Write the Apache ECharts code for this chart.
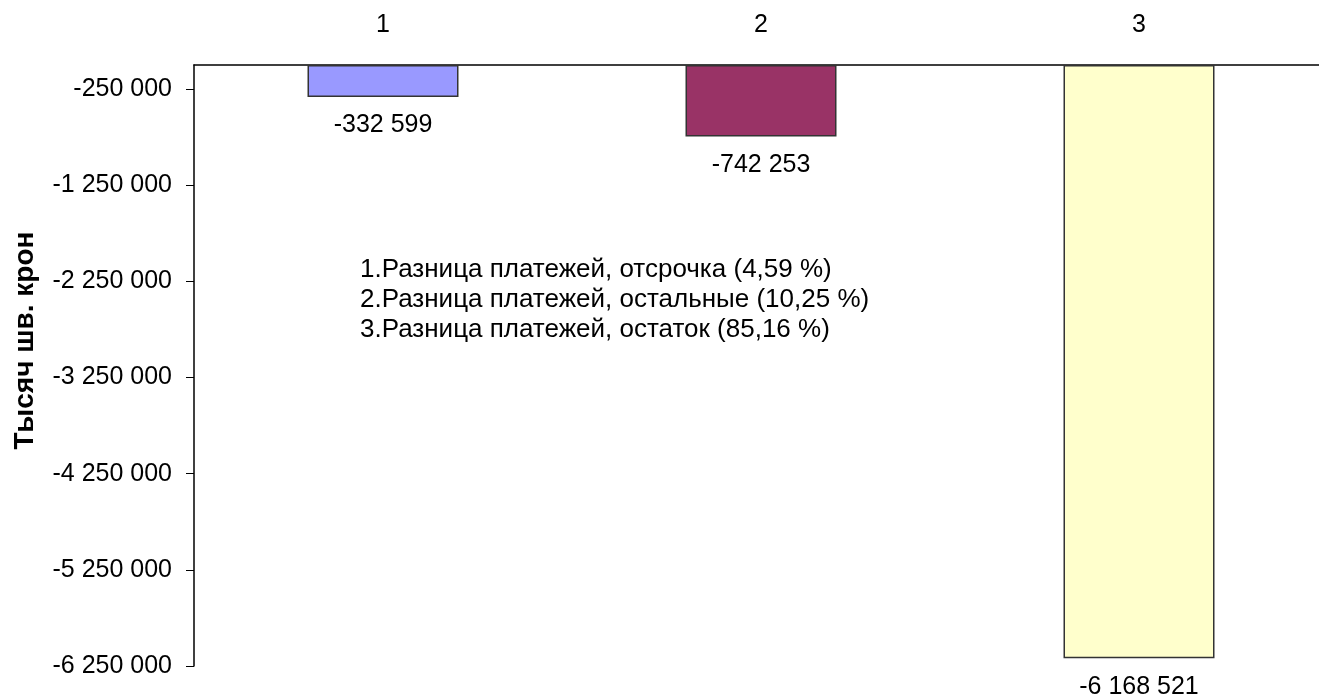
<!DOCTYPE html>
<html>
<head>
<meta charset="utf-8">
<script src="https://cdn.jsdelivr.net/npm/echarts@6/dist/echarts.min.js"></script>
<style>
  html, body { margin: 0; padding: 0; background: #fff; }
  #chart { width: 1319px; height: 697px; }
</style>
</head>
<body>
<div id="chart"></div>
<script>
// категории и значения (тыс. шв. крон)
const categories = ['1', '2', '3'];
const values = [-332599, -742253, -6168521];
const notes = [
  '1.Разница платежей, отсрочка (4,59 %)',
  '2.Разница платежей, остальные (10,25 %)',
  '3.Разница платежей, остаток (85,16 %)'
];
const barColors = ['#9999FF', '#993366', '#FFFFCC'];

const fmt = v => String(v).replace(/\B(?=(\d{3})+(?!\d))/g, ' ');
const font = 'Liberation Sans, Arial, sans-serif';

const chart = echarts.init(document.getElementById('chart'));
chart.setOption({
  animation: false,
  backgroundColor: '#fff',
  grid: { left: 194, top: 65, width: 1134, bottom: 31, outerBoundsMode: 'none', containLabel: false },
  xAxis: {
    type: 'category',
    position: 'top',
    data: categories,
    axisLine: { lineStyle: { color: '#000', width: 1.5 } },
    axisTick: { inside: true, length: 8, lineStyle: { color: '#000' } },
    axisLabel: { color: '#000', fontSize: 25, fontFamily: font, margin: 27 }
  },
  yAxis: {
    type: 'value',
    min: -6250000,
    max: 0,
    interval: 1000000,
    name: 'Тысяч шв. крон',
    nameLocation: 'middle',
    nameGap: 155,
    nameTextStyle: { color: '#000', fontSize: 28, fontWeight: 'bold', fontFamily: font, padding: [0, 0, 0, 50] },
    axisLine: { show: true, lineStyle: { color: '#000', width: 1.5 } },
    axisTick: { show: true, length: 8, lineStyle: { color: '#000' } },
    axisLabel: { color: '#000', fontSize: 25, fontFamily: font, margin: 22, showMaxLabel: false, formatter: fmt },
    splitLine: { show: false }
  },
  series: [{
    type: 'bar',
    barWidth: 151,
    data: values.map((v, i) => ({ value: v, itemStyle: { color: barColors[i] } })),
    itemStyle: { borderColor: '#333', borderWidth: 1.5 },
    label: {
      show: true,
      position: 'bottom',
      distance: 16,
      color: '#000',
      fontSize: 25,
      fontFamily: font,
      formatter: p => fmt(p.value)
    }
  }],
  graphic: [{
    type: 'text',
    left: 360,
    top: 255,
    style: {
      text: notes.join('\n'),
      fill: '#000',
      font: '26px ' + font,
      lineHeight: 30
    }
  }]
});
</script>
</body>
</html>
